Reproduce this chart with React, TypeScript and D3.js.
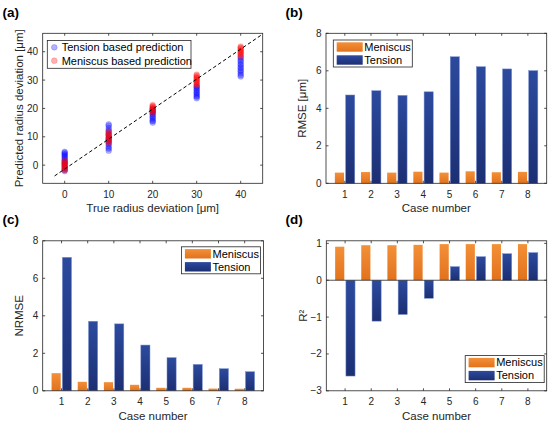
import { useEffect, useRef } from "react";
import * as d3 from "d3";

// ---- data ----
const CASES = [1, 2, 3, 4, 5, 6, 7, 8];
const RMSE_MENISCUS = [0.57, 0.6, 0.57, 0.62, 0.57, 0.64, 0.59, 0.61];
const RMSE_TENSION = [4.71, 4.94, 4.69, 4.88, 6.75, 6.22, 6.1, 6.01];
const NRMSE_MENISCUS = [0.94, 0.48, 0.46, 0.32, 0.16, 0.16, 0.12, 0.11];
const NRMSE_TENSION = [7.12, 3.71, 3.57, 2.44, 1.77, 1.41, 1.18, 1.02];
const R2_MENISCUS = [0.91, 0.95, 0.95, 0.96, 0.98, 0.98, 0.98, 0.98];
const R2_TENSION = [-2.6, -1.11, -0.93, -0.49, 0.37, 0.64, 0.72, 0.75];

const TRUE_DEV = [0, 10, 20, 30, 40];
const TENSION_PRED: number[][] = [
  [-2.1, -1.6, -1.1, -0.4, 0.1, 0.7, 1.0, 1.6, 2.0, 2.5, 2.9, 3.3, 3.7, 4.0, 4.4, 4.7],
  [5.1, 5.8, 6.2, 6.9, 7.5, 8.0, 8.6, 9.1, 9.7, 10.5, 11.0, 11.9, 12.4, 13.1, 13.9, 14.4],
  [15.0, 15.5, 15.8, 16.4, 16.9, 17.2, 17.8, 18.2, 18.7, 19.1, 19.5, 20.0],
  [23.6, 24.1, 24.4, 24.9, 25.4, 25.7, 26.3, 26.6, 27.2, 27.5, 27.9],
  [31.3, 31.8, 32.4, 33.1, 33.5, 34.2, 34.6, 35.3, 35.7, 36.5, 36.9, 37.6, 38.1],
];
const MENISCUS_PRED: number[][] = [
  [-1.8, -1.4, -0.9, -0.6, -0.1, 0.3, 0.8, 1.1, 1.6],
  [7.9, 8.4, 8.9, 9.3, 9.7, 10.3, 10.8, 11.2, 11.8],
  [18.4, 18.9, 19.2, 19.7, 20.0, 20.5, 20.8, 21.2],
  [28.2, 28.6, 29.1, 29.4, 29.9, 30.2, 30.7, 31.0, 31.5, 31.9],
  [38.5, 38.9, 39.4, 39.7, 40.2, 40.5, 41.0, 41.4, 41.8],
];
const FIT_X = [-2.3, 44.8];
const FIT_Y = [-3.8, 46.0];

const SERIES = ["Meniscus", "Tension"];

const FONT = "'Liberation Sans', Arial, Helvetica, sans-serif";
const INK = "#262626";
const ORANGE_TOP = "#f39038";
const ORANGE_BOT = "#e2721c";
const BLUE_TOP = "#2c4a9e";
const BLUE_BOT = "#1c2f73";

type Sel = d3.Selection<SVGGElement, unknown, null, undefined>;
type Lin = d3.ScaleLinear<number, number>;

function frame(g: Sel, x: Lin, y: Lin, xTicks: number[], yTicks: number[], fmtY: (n: number) => string) {
  const [x0, x1] = x.range();
  const [y0, y1] = y.range();
  const tl = 2.5;
  g.append("rect")
    .attr("x", x0).attr("y", y1).attr("width", x1 - x0).attr("height", y0 - y1)
    .attr("fill", "none").attr("stroke", INK).attr("stroke-width", 0.8);
  xTicks.forEach((t) => {
    const px = x(t);
    g.append("line").attr("x1", px).attr("x2", px).attr("y1", y0).attr("y2", y0 - tl).attr("stroke", INK).attr("stroke-width", 0.8);
    g.append("line").attr("x1", px).attr("x2", px).attr("y1", y1).attr("y2", y1 + tl).attr("stroke", INK).attr("stroke-width", 0.8);
    g.append("text").attr("x", px).attr("y", y0 + 14.5).attr("text-anchor", "middle")
      .attr("font-size", 10).attr("fill", INK).text(String(t));
  });
  yTicks.forEach((t) => {
    const py = y(t);
    g.append("line").attr("x1", x0).attr("x2", x0 + tl).attr("y1", py).attr("y2", py).attr("stroke", INK).attr("stroke-width", 0.8);
    g.append("line").attr("x1", x1).attr("x2", x1 - tl).attr("y1", py).attr("y2", py).attr("stroke", INK).attr("stroke-width", 0.8);
    g.append("text").attr("x", x0 - 4.5).attr("y", py).attr("dy", "0.35em").attr("text-anchor", "end")
      .attr("font-size", 10).attr("fill", INK).text(fmtY(t));
  });
}

function labels(g: Sel, x: Lin, y: Lin, xLabel: string, yLabel: string) {
  const [x0, x1] = x.range();
  const [y0, y1] = y.range();
  g.append("text").attr("x", (x0 + x1) / 2).attr("y", y0 + 29).attr("text-anchor", "middle")
    .attr("font-size", 11.5).attr("fill", INK).text(xLabel);
  g.append("text")
    .attr("transform", `translate(${x0 - 23.7},${(y0 + y1) / 2}) rotate(-90)`)
    .attr("text-anchor", "middle").attr("dy", "0.35em")
    .attr("font-size", 11.5).attr("fill", INK).text(yLabel);
}

function barLegend(g: Sel, lx: number, ly: number) {
  g.append("rect").attr("x", lx).attr("y", ly).attr("width", 79).attr("height", 27)
    .attr("fill", "#fff").attr("stroke", INK).attr("stroke-width", 0.8);
  SERIES.forEach((s, i) => {
    const cy = ly + 7 + i * 13;
    g.append("rect").attr("x", lx + 3.4).attr("y", cy - 4.7).attr("width", 26).attr("height", 9.4)
      .attr("fill", i === 0 ? "url(#gOrange)" : "url(#gBlue)");
    g.append("text").attr("x", lx + 31).attr("y", cy).attr("dy", "0.35em")
      .attr("font-size", 11).attr("fill", "#000").text(s);
  });
}

function bars(g: Sel, x: Lin, y: Lin, men: number[], ten: number[]) {
  const w = x(0.35) - x(0);
  const draw = (vals: number[], off: number, fill: string, edge: string) => {
    g.selectAll(null).data(CASES).enter().append("rect")
      .attr("x", (c) => x(c + off) - w / 2)
      .attr("y", (c, i) => Math.min(y(0), y(vals[i])))
      .attr("width", w)
      .attr("height", (c, i) => Math.abs(y(vals[i]) - y(0)))
      .attr("fill", fill).attr("stroke", edge).attr("stroke-width", 0.5);
  };
  draw(men, -0.206, "url(#gOrange)", "none");
  draw(ten, 0.206, "url(#gBlue)", "#7d93d3");
}

export default function App() {
  const svgRef = useRef<SVGSVGElement>(null);

  useEffect(() => {
    if (!svgRef.current) return;
    const svg = d3.select(svgRef.current);
    svg.selectAll("*").remove();
    svg.attr("font-family", FONT);

    const defs = svg.append("defs");
    const grad = (id: string, top: string, bot: string) => {
      const lg = defs.append("linearGradient").attr("id", id).attr("x1", 0).attr("x2", 0).attr("y1", 0).attr("y2", 1);
      lg.append("stop").attr("offset", "0%").attr("stop-color", top);
      lg.append("stop").attr("offset", "100%").attr("stop-color", bot);
    };
    grad("gOrange", ORANGE_TOP, ORANGE_BOT);
    grad("gBlue", BLUE_TOP, BLUE_BOT);

    svg.append("rect").attr("width", 550).attr("height", 424).attr("fill", "#fff");
    const g = svg.append("g") as unknown as Sel;

    // panel letters
    [["(a)", 2.5, 16.6], ["(b)", 285.5, 16.6], ["(c)", 2.5, 224], ["(d)", 285.5, 224]].forEach(([t, px, py]) => {
      g.append("text").attr("x", px as number).attr("y", py as number)
        .attr("font-size", 13.5).attr("font-weight", "bold").attr("fill", "#000").text(t as string);
    });

    // ---- (a) scatter ----
    const xa = d3.scaleLinear().domain([-5, 45]).range([42.7, 262.7]);
    const ya = d3.scaleLinear().domain([-6.4, 46.5]).range([183.3, 33.3]);
    const pts = (sets: number[][]) => sets.flatMap((vals, i) => vals.map((v) => [TRUE_DEV[i], v] as [number, number]));
    g.append("g").selectAll("circle").data(pts(TENSION_PRED)).enter().append("circle")
      .attr("cx", (d) => xa(d[0])).attr("cy", (d) => ya(d[1])).attr("r", 2.9)
      .attr("fill", "#0000ff").attr("fill-opacity", 0.28)
      .attr("stroke", "#0000ff").attr("stroke-opacity", 0.3).attr("stroke-width", 0.6);
    g.append("g").selectAll("circle").data(pts(MENISCUS_PRED)).enter().append("circle")
      .attr("cx", (d) => xa(d[0])).attr("cy", (d) => ya(d[1])).attr("r", 2.9)
      .attr("fill", "#ff0000").attr("fill-opacity", 0.3)
      .attr("stroke", "#ff0000").attr("stroke-opacity", 0.3).attr("stroke-width", 0.6);
    const fit = d3.line<number>().x((d) => xa(d)).y((d, i) => ya(FIT_Y[i]));
    g.append("path").attr("d", fit(FIT_X)).attr("fill", "none")
      .attr("stroke", "#000").attr("stroke-width", 1).attr("stroke-dasharray", "3.5 2.5");
    frame(g, xa, ya, TRUE_DEV, [0, 10, 20, 30, 40], (n) => String(n));
    labels(g, xa, ya, "True radius deviation [μm]", "Predicted radius deviation [μm]");
    // legend (a)
    g.append("rect").attr("x", 47.3).attr("y", 40.5).attr("width", 143.7).attr("height", 27.8)
      .attr("fill", "#fff").attr("stroke", INK).attr("stroke-width", 0.8);
    [["Tension based prediction", "#0000ff"], ["Meniscus based prediction", "#ff0000"]].forEach(([t, c], i) => {
      const cy = 47.3 + i * 13.4;
      g.append("circle").attr("cx", 54.3).attr("cy", cy).attr("r", 2.9)
        .attr("fill", c).attr("fill-opacity", 0.3).attr("stroke", c).attr("stroke-opacity", 0.3).attr("stroke-width", 0.6);
      g.append("text").attr("x", 61.7).attr("y", cy).attr("dy", "0.35em")
        .attr("font-size", 11).attr("fill", "#000").text(t);
    });

    // ---- (b) RMSE ----
    const xb = d3.scaleLinear().domain([0.28, 8.72]).range([326, 546.7]);
    const yb = d3.scaleLinear().domain([0, 8]).range([183.3, 33.3]);
    bars(g, xb, yb, RMSE_MENISCUS, RMSE_TENSION);
    frame(g, xb, yb, CASES, [0, 2, 4, 6, 8], (n) => String(n));
    labels(g, xb, yb, "Case number", "RMSE [μm]");
    barLegend(g, 333.3, 40);

    // ---- (c) NRMSE ----
    const xc = d3.scaleLinear().domain([0.28, 8.72]).range([42.7, 263.5]);
    const yc = d3.scaleLinear().domain([0, 8]).range([390.8, 240.8]);
    bars(g, xc, yc, NRMSE_MENISCUS, NRMSE_TENSION);
    frame(g, xc, yc, CASES, [0, 2, 4, 6, 8], (n) => String(n));
    labels(g, xc, yc, "Case number", "NRMSE");
    barLegend(g, 181.5, 246.8);

    // ---- (d) R2 ----
    const xd = d3.scaleLinear().domain([0.28, 8.72]).range([326.3, 546.7]);
    const yd = d3.scaleLinear().domain([-3, 1.07]).range([390.8, 240.8]);
    bars(g, xd, yd, R2_MENISCUS, R2_TENSION);
    g.append("line").attr("x1", xd.range()[0]).attr("x2", xd.range()[1])
      .attr("y1", yd(0)).attr("y2", yd(0)).attr("stroke", INK).attr("stroke-width", 0.8);
    frame(g, xd, yd, CASES, [-3, -2, -1, 0, 1], d3.format("d"));
    labels(g, xd, yd, "Case number", "R²");
    barLegend(g, 465.2, 355.6);
  }, []);

  return (
    <svg
      ref={svgRef}
      width={550}
      height={424}
      style={{ position: "absolute", left: 0, top: 0, display: "block" }}
    />
  );
}
